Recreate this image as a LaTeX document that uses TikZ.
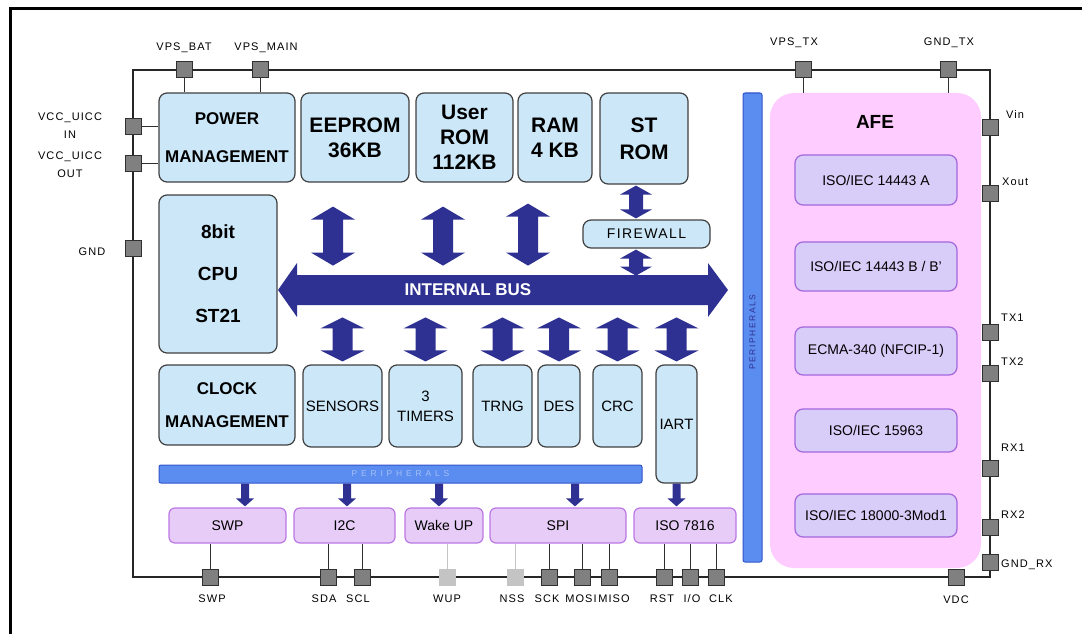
\documentclass[tikz,border=0pt]{standalone}
\usepackage{fontspec}
\setmainfont{Liberation Sans}
\newfontfamily\pinfont[LetterSpace=10]{Liberation Sans}
\newfontfamily\hbarfont[LetterSpace=45]{Liberation Sans}
\newfontfamily\vbarfont[LetterSpace=18]{Liberation Sans}
\usetikzlibrary{calc}

\definecolor{blkfill}{HTML}{CCE8F8}
\definecolor{blkline}{HTML}{404040}
\definecolor{perfill}{HTML}{E6CCF6}
\definecolor{perline}{HTML}{BB77E6}
\definecolor{afefill}{HTML}{FFCCFF}
\definecolor{isofill}{HTML}{D8CCF8}
\definecolor{isoline}{HTML}{A366DD}
\definecolor{barfill}{HTML}{5B8CF0}
\definecolor{barline}{HTML}{3355CC}
\definecolor{busblue}{HTML}{2E3192}
\definecolor{pinfill}{HTML}{808080}
\definecolor{pinline}{HTML}{303030}
\definecolor{pinoff}{HTML}{C4C4C4}

\tikzset{
  blk/.style={draw=blkline, fill=blkfill, line width=1.2pt, rounded corners=8pt,
    inner sep=0pt, align=center},
  memlbl/.style={font=\bfseries\fontsize{21}{25}\selectfont},
  smlbl/.style={font=\fontsize{15}{20}\selectfont},
  perbox/.style={draw=perline, fill=perfill, line width=1.2pt, rounded corners=6pt,
    inner sep=0pt, font=\fontsize{14}{16}\selectfont},
  isobox/.style={draw=isoline, fill=isofill, line width=1.2pt, rounded corners=8pt,
    inner sep=0pt, minimum width=162pt, font=\fontsize{14}{16}\selectfont},
  bar/.style={draw=barline, fill=barfill, line width=1pt, rounded corners=2pt, inner sep=0pt},
  pin/.style={draw=pinline, fill=pinfill, line width=1pt, minimum size=16pt, inner sep=0pt},
  pinoffbox/.style={draw=pinoff, fill=pinoff, line width=1pt, minimum size=16pt, inner sep=0pt},
  pinlbl/.style={inner sep=0pt, align=center, font=\pinfont\fontsize{11}{18}\selectfont},
  wire/.style={line width=1pt, draw=pinline},
  wireoff/.style={line width=1pt, draw=pinoff},
}

% fat double arrow: top, bottom, shaft half width, head half width, head length
\newcommand{\vdarrow}[5]{%
  \fill[busblue] let \p1=#1, \p2=#2 in
    (\x1,\y1) -- (\x1+#4,\y1-#5) -- (\x1+#3,\y1-#5) -- (\x1+#3,\y2+#5)
    -- (\x1+#4,\y2+#5) -- (\x1,\y2) -- (\x1-#4,\y2+#5) -- (\x1-#3,\y2+#5)
    -- (\x1-#3,\y1-#5) -- (\x1-#4,\y1-#5) -- cycle;}
% small down arrow
\newcommand{\sdarrow}[2]{%
  \fill[busblue] let \p1=#1, \p2=#2 in
    (\x1-4pt,\y1) -- (\x1+4pt,\y1) -- (\x1+4pt,\y2+8pt) -- (\x1+9pt,\y2+8pt)
    -- (\x1,\y2) -- (\x1-9pt,\y2+8pt) -- (\x1-4pt,\y2+8pt) -- cycle;}

\begin{document}
\begin{tikzpicture}[x=1pt,y=-1pt]
    \useasboundingbox (0,0) rectangle (1082,634);

    % Figure frame
    \draw[line width=3pt] (10,634) -- (10,9) -- (1082,9);

    % AFE
    \node[fill=afefill, rounded corners=24pt, minimum width=211pt, minimum height=475pt,
      inner sep=0pt] (afe) at (875.5,330.5) {};
    \node[font=\bfseries\fontsize{19}{22}\selectfont] (afel) at (875,122) {AFE};

    % Chip outline
    \draw[line width=2.5pt, draw=black!85] (133,70) rectangle (990,577);

    % Memories and CPU
    \node[blk, memlbl, font=\bfseries\fontsize{17}{38}\selectfont,
      minimum width=136pt, minimum height=89pt] (pwr) at (227,137.5) {POWER\\MANAGEMENT};
    \node[blk, memlbl, minimum width=108pt, minimum height=89pt] (eeprom) at (355,137.5) {EEPROM\\36KB};
    \node[blk, memlbl, minimum width=97pt, minimum height=89pt] (urom) at (464.5,137.5) {User\\ROM\\112KB};
    \node[blk, memlbl, minimum width=74pt, minimum height=89pt] (ram) at (555,137.5) {RAM\\4 KB};
    \node[blk, memlbl, font=\bfseries\fontsize{21}{27}\selectfont,
      minimum width=88pt, minimum height=91pt] (strom) at (644,138.5) {ST\\ROM};
    \node[blk, font=\pinfont\fontsize{14}{16}\selectfont,
      minimum width=127pt, minimum height=28pt] (fw) at (646.5,234) {FIREWALL};
    \node[blk, font=\bfseries\fontsize{19}{42}\selectfont,
      minimum width=118pt, minimum height=158pt] (cpu) at (218,274) {8bit\\CPU\\ST21};

    % Lower blocks
    \node[blk, font=\bfseries\fontsize{17}{33}\selectfont,
      minimum width=136pt, minimum height=80pt] (clk) at (227,405) {CLOCK\\MANAGEMENT};
    \node[blk, smlbl, minimum width=79pt, minimum height=82pt] (sens) at (342.5,406) {SENSORS};
    \node[blk, smlbl, minimum width=73pt, minimum height=82pt] (tim) at (425.5,406) {3\\TIMERS};
    \node[blk, smlbl, minimum width=59pt, minimum height=82pt] (trng) at (502.5,406) {TRNG};
    \node[blk, smlbl, minimum width=42pt, minimum height=82pt] (des) at (559,406) {DES};
    \node[blk, smlbl, minimum width=49pt, minimum height=82pt] (crc) at (617.5,406) {CRC};
    \node[blk, smlbl, minimum width=41pt, minimum height=118pt] (iart) at (676.5,424) {IART};

    % Internal bus
    \coordinate (busl) at (278,290);
    \coordinate (busr) at (728,290);
    \fill[busblue] let \p1=(busl), \p2=(busr) in
      (\x1,\y1) -- (\x1+19pt,\y1+27pt) -- (\x1+19pt,\y1+15pt) -- (\x2-20pt,\y1+15pt)
      -- (\x2-20pt,\y1+27pt) -- (\x2,\y1) -- (\x2-20pt,\y1-27pt) -- (\x2-20pt,\y1-15pt)
      -- (\x1+19pt,\y1-15pt) -- (\x1+19pt,\y1-27pt) -- cycle;
    \node[text=white, font=\bfseries\fontsize{17}{20}\selectfont] (busname) at (468,290) {INTERNAL BUS};

    % Bus arrows
    \vdarrow{($(eeprom.south)+(-22,24)$)}{($(eeprom.south)+(-22,83)$)}{10pt}{22pt}{13pt}
    \vdarrow{($(urom.south)+(-21.5,24)$)}{($(urom.south)+(-21.5,83)$)}{10pt}{22pt}{13pt}
    \vdarrow{($(ram.south)+(-27,21)$)}{($(ram.south)+(-27,83)$)}{10pt}{22pt}{13pt}
    \vdarrow{($(strom.south)+(-8,1)$)}{($(fw.north)+(-10.5,-1)$)}{7pt}{16pt}{9pt}
    \vdarrow{($(fw.south)+(-10.5,1)$)}{($(fw.south)+(-10.5,27)$)}{7pt}{16pt}{9pt}
    \foreach \b in {sens,tim,trng,des,crc,iart}
      \vdarrow{($(\b.north)+(0,-47)$)}{($(\b.north)+(0,-3)$)}{10pt}{22pt}{11pt};

    % Peripherals busses
    \node[bar, minimum width=483pt, minimum height=18pt] (pbar) at (400.5,474) {};
    \node[font=\hbarfont\fontsize{8.5}{10}\selectfont, text=barfill!55!white] (pbarl) at (pbar) {PERIPHERALS};
    \node[bar, minimum width=19pt, minimum height=469pt] (vbar) at (752.5,327.5) {};
    \node[rotate=90, font=\vbarfont\fontsize{8.5}{10}\selectfont, text=busblue] (vbarl) at (752.5,332) {PERIPHERALS};

    % Interfaces
    \node[perbox, minimum width=117pt, minimum height=35pt] (swpb) at (227.5,525.5) {SWP};
    \node[perbox, minimum width=101pt, minimum height=35pt] (i2cb) at (344.5,525.5) {I2C};
    \node[perbox, minimum width=78pt, minimum height=35pt] (wakeb) at (444,525.5) {Wake UP};
    \node[perbox, minimum width=136pt, minimum height=35pt] (spib) at (558,525.5) {SPI};
    \node[perbox, minimum width=102pt, minimum height=35pt] (isob) at (685,525.5) {ISO 7816};
    \sdarrow{($(swpb.north |- pbar.south)+(17.5,0)$)}{($(swpb.north)+(17.5,-1)$)}
    \sdarrow{($(i2cb.north |- pbar.south)+(2.5,0)$)}{($(i2cb.north)+(2.5,-1)$)}
    \sdarrow{($(wakeb.north |- pbar.south)+(-5,0)$)}{($(wakeb.north)+(-5,-1)$)}
    \sdarrow{($(spib.north |- pbar.south)+(17,0)$)}{($(spib.north)+(17,-1)$)}
    \sdarrow{($(iart.south)+(0,0)$)}{($(isob.north)+(-8,-1)$)}

    % AFE protocols
    \node[isobox, minimum height=50pt] (iso1) at (876,180) {ISO/IEC 14443 A};
    \node[isobox, minimum height=49pt] (iso2) at (876,266.5) {ISO/IEC 14443 B / B'};
    \node[isobox, minimum height=48pt] (iso3) at (876,351) {ECMA-340 (NFCIP-1)};
    \node[isobox, minimum height=43pt] (iso4) at (876,430.5) {ISO/IEC 15963};
    \node[isobox, minimum height=43pt] (iso5) at (876,515.5) {ISO/IEC 18000-3Mod1};

    % Pins
    \node[pin] (vbat) at (184,70) {};
    \node[pin] (vmain) at (260,70) {};
    \node[pin] (vtx) at (803,70) {};
    \node[pin] (gtx) at (948,70) {};
    \node[pin] (uin) at (133,126) {};
    \node[pin] (uout) at (133,163) {};
    \node[pin] (gnd) at (133,248) {};
    \node[pin] (vin) at (990,127) {};
    \node[pin] (xout) at (990,193) {};
    \node[pin] (tx1) at (990,332) {};
    \node[pin] (tx2) at (990,373) {};
    \node[pin] (rx1) at (990,468) {};
    \node[pin] (rx2) at (990,527) {};
    \node[pin] (grx) at (990,562) {};
    \node[pin] (vdc) at (956,577) {};
    \node[pin] (swp) at (210,577) {};
    \node[pin] (sda) at (328,577) {};
    \node[pin] (scl) at (362,577) {};
    \node[pinoffbox] (wup) at (447,577) {};
    \node[pinoffbox] (nss) at (515,577) {};
    \node[pin] (sck) at (549,577) {};
    \node[pin] (mosi) at (582,577) {};
    \node[pin] (miso) at (609,577) {};
    \node[pin] (rst) at (664,577) {};
    \node[pin] (io) at (690,577) {};
    \node[pin] (clkp) at (716,577) {};

    % Wires
    \draw[wire] (vbat) -- (vbat |- pwr.north);
    \draw[wire] (vmain) -- (vmain |- pwr.north);
    \draw[wire] (uin) -- (uin -| pwr.west);
    \draw[wire] (uout) -- (uout -| pwr.west);
    \draw[wire] (vtx) -- (vtx |- afe.north);
    \draw[wire] (gtx) -- (gtx |- afe.north);
    \draw[wire] (swp) -- (swp |- swpb.south);
    \draw[wire] (sda) -- (sda |- i2cb.south);
    \draw[wire] (scl) -- (scl |- i2cb.south);
    \draw[wireoff] (wup) -- (wup |- wakeb.south);
    \draw[wireoff] (nss) -- (nss |- spib.south);
    \foreach \p in {sck,mosi,miso}
      \draw[wire] (\p) -- (\p |- spib.south);
    \foreach \p in {rst,io,clkp}
      \draw[wire] (\p) -- (\p |- isob.south);

    % Pin labels
    \node[pinlbl] (vbatl) at (184,48) {VPS\_BAT};
    \node[pinlbl] (vmainl) at (266,48) {VPS\_MAIN};
    \node[pinlbl] (vtxl) at (794,43) {VPS\_TX};
    \node[pinlbl] (gtxl) at (949,43) {GND\_TX};
    \node[pinlbl] (uinl) at (70,126) {VCC\_UICC\\IN};
    \node[pinlbl] (uoutl) at (70,165) {VCC\_UICC\\OUT};
    \node[pinlbl] (gndl) at (92,252) {GND};
    \node[pinlbl, anchor=west] (vinl) at (1006,115) {Vin};
    \node[pinlbl, anchor=west] (xoutl) at (1002,182) {Xout};
    \node[pinlbl, anchor=west] (tx1l) at (1001,318) {TX1};
    \node[pinlbl, anchor=west] (tx2l) at (1001,362) {TX2};
    \node[pinlbl, anchor=west] (rx1l) at (1001,448) {RX1};
    \node[pinlbl, anchor=west] (rx2l) at (1001,515) {RX2};
    \node[pinlbl, anchor=west] (grxl) at (1001,565) {GND\_RX};
    \node[pinlbl] (vdcl) at (956,600) {VDC};
    \node[pinlbl] (swpl) at (212,599) {SWP};
    \node[pinlbl] (sdal) at (324,599) {SDA};
    \node[pinlbl] (scll) at (358,599) {SCL};
    \node[pinlbl] (wupl) at (447,599) {WUP};
    \node[pinlbl] (nssl) at (512,599) {NSS};
    \node[pinlbl] (sckl) at (547,599) {SCK};
    \node[pinlbl] (mosil) at (581,599) {MOSI};
    \node[pinlbl] (misol) at (614,599) {MISO};
    \node[pinlbl] (rstl) at (662,599) {RST};
    \node[pinlbl] (iol) at (692,599) {I/O};
    \node[pinlbl] (clkl) at (721,599) {CLK};
\end{tikzpicture}
\end{document}
